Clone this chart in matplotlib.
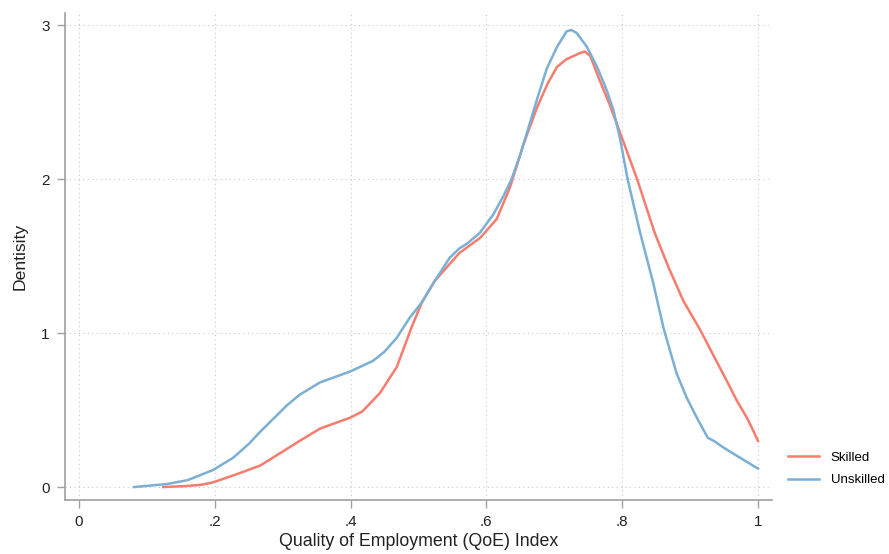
import matplotlib.pyplot as plt

plt.rcParams["font.family"] = ["Liberation Sans", "DejaVu Sans"]

# Unskilled (blue) density curve
unskilled_x = [0.081, 0.13, 0.16, 0.197, 0.227, 0.25, 0.267, 0.29, 0.306, 0.325,
               0.34, 0.355, 0.38, 0.399, 0.433, 0.45, 0.468, 0.487, 0.505, 0.524,
               0.546, 0.56, 0.571, 0.59, 0.61, 0.625, 0.637, 0.65, 0.663, 0.676,
               0.689, 0.704, 0.718, 0.725, 0.733, 0.748, 0.763, 0.777, 0.787, 0.797,
               0.808, 0.826, 0.846, 0.861, 0.88, 0.895, 0.91, 0.926, 0.935, 0.948,
               0.97, 1.0]
unskilled_y = [0.0, 0.02, 0.045, 0.11, 0.19, 0.28, 0.36, 0.46, 0.53, 0.60,
               0.64, 0.68, 0.72, 0.75, 0.82, 0.88, 0.97, 1.10, 1.20, 1.34,
               1.49, 1.55, 1.58, 1.65, 1.77, 1.89, 2.0, 2.16, 2.35, 2.54,
               2.72, 2.86, 2.96, 2.97, 2.95, 2.86, 2.73, 2.58, 2.45, 2.26,
               2.0, 1.66, 1.32, 1.03, 0.74, 0.58, 0.45, 0.32, 0.30, 0.26,
               0.20, 0.12]

# Skilled (red) density curve
skilled_x = [0.124, 0.159, 0.18, 0.197, 0.23, 0.267, 0.296, 0.325, 0.355, 0.38,
             0.399, 0.417, 0.443, 0.468, 0.49, 0.505, 0.524, 0.546, 0.56, 0.591,
             0.615, 0.635, 0.654, 0.674, 0.69, 0.704, 0.718, 0.738, 0.745, 0.753,
             0.767, 0.782, 0.797, 0.822, 0.848, 0.868, 0.89, 0.915, 0.935,
             0.954, 0.969, 0.985, 1.0]
skilled_y = [0.0, 0.007, 0.015, 0.03, 0.08, 0.14, 0.22, 0.30, 0.38, 0.42,
             0.45, 0.49, 0.61, 0.78, 1.04, 1.20, 1.34, 1.45, 1.52, 1.62,
             1.74, 1.95, 2.22, 2.46, 2.62, 2.73, 2.78, 2.82, 2.83, 2.80,
             2.64, 2.48, 2.30, 2.0, 1.65, 1.43, 1.21, 1.02, 0.85,
             0.69, 0.56, 0.44, 0.30]

x_ticks = [0, 0.2, 0.4, 0.6, 0.8, 1.0]
x_tick_labels = ["0", ".2", ".4", ".6", ".8", "1"]
y_ticks = [0, 1, 2, 3]
y_tick_labels = ["0", "1", "2", "3"]

RED = "#F67C6E"
BLUE = "#7BAFD4"
AXIS_GRAY = "#A0A0A0"

fig = plt.figure(figsize=(8.89, 5.54), dpi=100)
ax = fig.add_axes([65 / 889, 54 / 554, 707 / 889, 487 / 554])

ax.plot(skilled_x, skilled_y, color=RED, lw=1.8, label="Skilled", zorder=3)
ax.plot(unskilled_x, unskilled_y, color=BLUE, lw=1.8, label="Unskilled", zorder=3)

ax.set_xlim(-0.0206, 1.0206)
ax.set_ylim(-0.084, 3.08)
ax.set_xticks(x_ticks)
ax.set_xticklabels(x_tick_labels)
ax.set_yticks(y_ticks)
ax.set_yticklabels(y_tick_labels)

ax.grid(True, linestyle=(0, (1, 3)), color="#C8C8C8", lw=0.8)
ax.set_axisbelow(True)

for side in ["top", "right"]:
    ax.spines[side].set_visible(False)
for side in ["left", "bottom"]:
    ax.spines[side].set_color(AXIS_GRAY)
    ax.spines[side].set_linewidth(1.2)

ax.tick_params(axis="both", direction="out", length=6, width=1, color=AXIS_GRAY,
               labelsize=11, labelcolor="#222222", pad=5)

ax.set_xlabel("Quality of Employment (QoE) Index", fontsize=12.8, color="#222222", labelpad=3)
ax.set_ylabel("Dentisity", fontsize=12.6, color="#222222", labelpad=10)

fig.legend(loc="center left", bbox_to_anchor=(783 / 889, 1 - 469 / 554),
           frameon=False, fontsize=9.5, handlelength=2.3, handletextpad=0.9,
           labelspacing=0.75, borderaxespad=0)

fig.savefig("out.png", dpi=100)
